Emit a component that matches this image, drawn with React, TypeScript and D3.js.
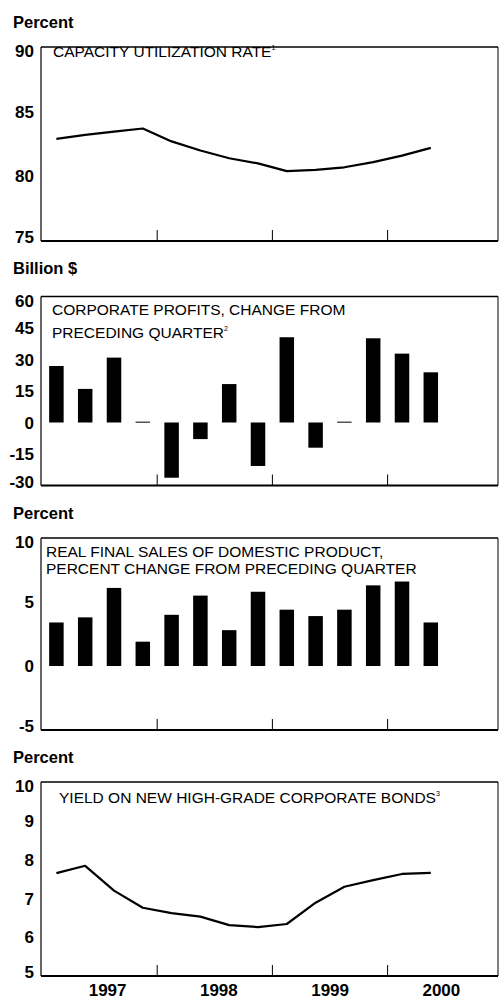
import React from "react";
import * as d3 from "d3";

// ---------- data ----------
const years = [1997, 1998, 1999, 2000];
const quarters = [
  "1997Q1", "1997Q2", "1997Q3", "1997Q4",
  "1998Q1", "1998Q2", "1998Q3", "1998Q4",
  "1999Q1", "1999Q2", "1999Q3", "1999Q4",
  "2000Q1", "2000Q2",
];
const capacityUtilization = [82.9, 83.2, 83.45, 83.7, 82.7, 82.0, 81.4, 81.0, 80.4, 80.5, 80.7, 81.1, 81.6, 82.2];
const profitChange = [26.9, 16.0, 30.9, 0.4, -26.3, -7.9, 18.3, -20.7, 40.6, -12.0, 0.4, 40.1, 32.8, 23.9];
const realFinalSales = [3.4, 3.8, 6.1, 1.9, 4.0, 5.5, 2.8, 5.8, 4.4, 3.9, 4.4, 6.3, 6.6, 3.4];
const bondYield = [7.65, 7.84, 7.2, 6.76, 6.62, 6.53, 6.31, 6.26, 6.34, 6.89, 7.3, 7.47, 7.63, 7.66];

const capTicks = [75, 80, 85, 90];
const profitTicks = [-30, -15, 0, 15, 30, 45, 60];
const salesTicks = [-5, 0, 5, 10];
const yieldTicks = [5, 6, 7, 8, 9, 10];

// ---------- layout ----------
const W = 499;
const H = 1001;
const LEFT = 41;
const RIGHT = 498;
const FONT = "'Liberation Sans', Arial, Helvetica, sans-serif";

const qTime = quarters.map((q) => +q.slice(0, 4) + (+q.slice(5) - 0.5) / 4);

const x = d3.scaleLinear().domain([1997, 2001]).range([42, 42 + 4 * 115.2]);
const yearLabelX = d3.scaleBand<number>().domain(years).range([52, 497]);

type Panel = {
  unit: string;
  unitY: number;
  top: number;
  bottom: number;
  domain: [number, number];
  ticks: number[];
  kind: "line" | "bar";
  values: number[];
  title: string[];
  titleX: number;
  titleY: number;
  lineGap: number;
  sup: string;
};

const panels: Panel[] = [
  {
    unit: "Percent", unitY: 28, top: 47, bottom: 241, domain: [75, 90], ticks: capTicks,
    kind: "line", values: capacityUtilization,
    title: ["CAPACITY UTILIZATION RATE"], titleX: 53, titleY: 57.3, lineGap: 0, sup: "1",
  },
  {
    unit: "Billion $", unitY: 274, top: 296.5, bottom: 485.5, domain: [-30, 60], ticks: profitTicks,
    kind: "bar", values: profitChange,
    title: ["CORPORATE PROFITS, CHANGE FROM", "PRECEDING QUARTER"], titleX: 52, titleY: 315, lineGap: 22.7, sup: "2",
  },
  {
    unit: "Percent", unitY: 519, top: 538, bottom: 730, domain: [-5, 10], ticks: salesTicks,
    kind: "bar", values: realFinalSales,
    title: ["REAL FINAL SALES OF DOMESTIC PRODUCT,", "PERCENT CHANGE FROM PRECEDING QUARTER"], titleX: 46, titleY: 557.3, lineGap: 16.7, sup: "",
  },
  {
    unit: "Percent", unitY: 762.5, top: 782, bottom: 976, domain: [5, 10], ticks: yieldTicks,
    kind: "line", values: bondYield,
    title: ["YIELD ON NEW HIGH-GRADE CORPORATE BONDS"], titleX: 59, titleY: 803.3, lineGap: 0, sup: "3",
  },
];

function PanelView({ p }: { p: Panel }) {
  const y = d3.scaleLinear().domain(p.domain).range([p.bottom, p.top]);
  const barW = 14.5;
  const line = d3
    .line<number>()
    .x((_, i) => x(qTime[i]))
    .y((v) => y(v))
    .curve(d3.curveLinear);
  const [lo, hi] = p.domain;
  return (
    <g>
      <text x={13} y={p.unitY} fontFamily={FONT} fontWeight="bold" fontSize={16.5} fill="#000">
        {p.unit}
      </text>
      {p.ticks.map((t) => {
        let yy = y(t);
        if (t === hi) yy += 4;
        if (t === lo) yy -= 4;
        return (
          <text key={t} x={34} y={yy} dy="0.36em" textAnchor="end" fontFamily={FONT} fontWeight="bold" fontSize={17} fill="#000">
            {t}
          </text>
        );
      })}
      {/* frame */}
      <line x1={LEFT} x2={RIGHT} y1={p.top} y2={p.top} stroke="#000" strokeWidth={1.4} />
      <line x1={LEFT} x2={LEFT} y1={p.top} y2={p.bottom} stroke="#000" strokeWidth={1.2} />
      <line x1={RIGHT} x2={RIGHT} y1={p.top} y2={p.bottom} stroke="#000" strokeWidth={1} />
      <line x1={LEFT} x2={RIGHT} y1={p.bottom} y2={p.bottom} stroke="#000" strokeWidth={1.8} />
      {years.slice(1).map((yr) => (
        <line key={yr} x1={x(yr)} x2={x(yr)} y1={p.bottom} y2={p.bottom - 11} stroke="#000" strokeWidth={1} />
      ))}
      {/* title */}
      <text fontFamily={FONT} fontSize={15.5} fill="#000">
        {p.title.map((t, i) => (
          <tspan key={i} x={p.titleX} y={p.titleY + i * p.lineGap}>
            {t}
            {i === p.title.length - 1 && p.sup ? (
              <tspan fontSize={7} dy={-7}>{p.sup}</tspan>
            ) : null}
          </tspan>
        ))}
      </text>
      {p.kind === "bar"
        ? p.values.map((v, i) => {
            const y0 = y(0);
            const y1 = y(v);
            const h = Math.max(Math.abs(y1 - y0), 1);
            return (
              <rect key={i} x={x(qTime[i]) - barW / 2} y={Math.min(y0, y1)} width={barW} height={h} fill="#000" />
            );
          })
        : <path d={line(p.values) || ""} fill="none" stroke="#000" strokeWidth={2.2} strokeLinejoin="round" />}
    </g>
  );
}

export default function App() {
  return (
    <svg
      width={W}
      height={H}
      viewBox={`0 0 ${W} ${H}`}
      style={{ position: "absolute", left: 0, top: 0, background: "#fff" }}
    >
      <rect x={0} y={0} width={W} height={H} fill="#fff" />
      {panels.map((p, i) => (
        <PanelView key={i} p={p} />
      ))}
      {years.map((yr) => (
        <text
          key={yr}
          x={(yearLabelX(yr) || 0) + yearLabelX.bandwidth() / 2}
          y={996}
          textAnchor="middle"
          fontFamily={FONT}
          fontWeight="bold"
          fontSize={17}
          fill="#000"
        >
          {yr}
        </text>
      ))}
    </svg>
  );
}
